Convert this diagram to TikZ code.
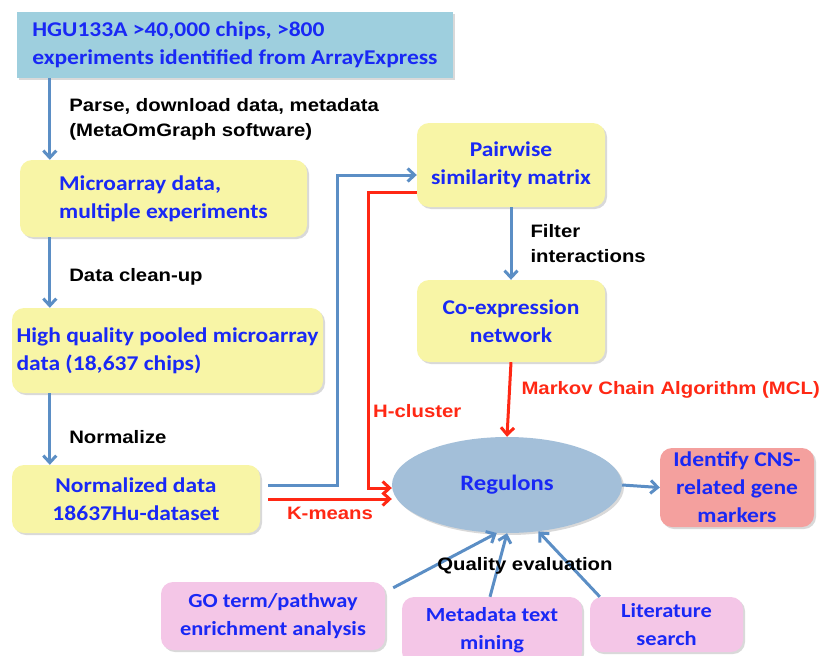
\documentclass[tikz,border=0pt]{standalone}
\usepackage{fontspec}
\setmainfont{Carlito}[FakeStretch=1.12]
\newfontfamily\arialfont{Liberation Sans}[FakeStretch=1.13]
\usetikzlibrary{arrows.meta,shapes.geometric,shadows}

\definecolor{topblue}{RGB}{158,207,222}
\definecolor{boxyellow}{RGB}{248,245,166}
\definecolor{evalpink}{RGB}{244,198,231}
\definecolor{cnsred}{RGB}{244,160,158}
\definecolor{regblue}{RGB}{163,191,217}
\definecolor{txtblue}{RGB}{25,40,245}
\definecolor{arrowblue}{RGB}{91,142,197}
\definecolor{arrowred}{RGB}{255,40,20}

\newcommand{\boxfont}{\fontsize{21}{28}\selectfont\bfseries}
\newcommand{\labfont}{\arialfont\fontsize{18}{25}\selectfont\bfseries}

\begin{document}
\begin{tikzpicture}[
    x=1pt, y=-1pt,
    >={Straight Barb[length=7pt,width=13pt]},
    boxshadow/.style={drop shadow={shadow xshift=2pt, shadow yshift=-2pt, opacity=0.3}},
    box/.style={boxshadow, rounded corners=12pt, fill=boxyellow, text=txtblue,
                font=\boxfont, align=center, inner sep=2pt},
    src/.style={box, rounded corners=0pt, fill=topblue, align=left},
    evalbox/.style={box, fill=evalpink, font=\fontsize{20}{28}\selectfont\bfseries},
    regul/.style={boxshadow, ellipse, fill=regblue, text=txtblue,
                  font=\fontsize{22}{28}\selectfont\bfseries},
    lab/.style={font=\labfont, text=black, inner sep=0pt, align=left},
    flow/.style={->, line width=3pt, arrowblue},
    redflow/.style={->, line width=3pt, arrowred},
  ]
  \useasboundingbox (0,0) rectangle (825,656);
  %% ---- Pipeline (left column) ----
  \node[src, minimum width=436pt, minimum height=66pt] (src) at (235,45)
    {HGU133A >40,000 chips, >800\\experiments identified from ArrayExpress};
  \node[box, align=left, minimum width=287pt, minimum height=77pt] (micro) at (163.5,198.5)
    {Microarray data,\\multiple experiments};
  \node[box, align=left, minimum width=311pt, minimum height=85pt] (pooled) at (167.5,350.5)
    {High quality pooled microarray\\data (18,637 chips)};
  \node[box, minimum width=248pt, minimum height=68pt] (norm) at (136,499)
    {Normalized data\\18637Hu-dataset};
  %% ---- Network (middle column) ----
  \node[box, minimum width=188pt, minimum height=84pt] (pair) at (511,165)
    {Pairwise\\similarity matrix};
  \node[box, minimum width=188pt, minimum height=82pt] (coexp) at (511,321)
    {Co-expression\\network};
  \node[regul, minimum width=230pt, minimum height=96pt] (reg) at (507,485) {Regulons};
  \node[box, fill=cnsred, minimum width=154pt, minimum height=79pt] (cns) at (737,487.5)
    {Identify CNS-\\related gene\\markers};
  %% ---- Quality evaluation boxes ----
  \node[evalbox, minimum width=224pt, minimum height=68pt] (go) at (273,616)
    {GO term/pathway\\enrichment analysis};
  \node[evalbox, minimum width=180pt, minimum height=67pt] (meta) at (492,630.5)
    {Metadata text\\mining};
  \node[evalbox, minimum width=153pt, minimum height=55pt] (lit) at (666.5,624.5)
    {Literature\\search};
  %% ---- Arrows ----
  \draw[flow] ([xshift=33pt]src.south west) --
    node[lab, right=18pt] {Parse, download data, metadata\\(MetaOmGraph software)}
    ([xshift=30pt]micro.north west);
  \draw[flow] ([xshift=30pt]micro.south west) --
    node[lab, right=18pt, yshift=-4pt] {Data clean-up} ([xshift=38pt]pooled.north west);
  \draw[flow] ([xshift=38pt]pooled.south west) --
    node[lab, right=18pt, yshift=-8pt] {Normalize} ([xshift=38pt]norm.north west);
  \draw[flow] ([xshift=8pt,yshift=14pt]norm.east) -| ([xshift=-79pt,yshift=-10pt]pair.west)
    -- ([yshift=-10pt]pair.west);
  \draw[redflow] ([yshift=-27pt]pair.west) -| ([xshift=-23pt,yshift=-3pt]reg.west)
    -- ([yshift=-3pt]reg.west);
  \draw[redflow] ([xshift=8pt]norm.east) --
    node[lab, below=7pt, text=arrowred] {K-means} (norm.east -| reg.west);
  \draw[flow] (pair.south) --
    node[lab, right=18pt] {Filter\\interactions} (coexp.north);
  \draw[redflow] (coexp.south) --
    node[lab, right=11pt, yshift=10pt, text=arrowred] {Markov Chain Algorithm (MCL)} (reg.north);
  \draw[flow] (reg.east) -- (cns.west);
  \draw[flow] ([xshift=8pt,yshift=-6pt]go.north east) -- (reg.-102);
  \draw[flow] ([xshift=-2pt]meta.north) -- (reg.south);
  \draw[flow] ([xshift=10pt]lit.north west) -- (reg.-56);
  %% ---- Free labels ----
  \node[lab, text=arrowred, anchor=west] (hcl) at (373,411) {H-cluster};
  \node[lab] (qual) at (525,566) {Quality evaluation};
\end{tikzpicture}
\end{document}
